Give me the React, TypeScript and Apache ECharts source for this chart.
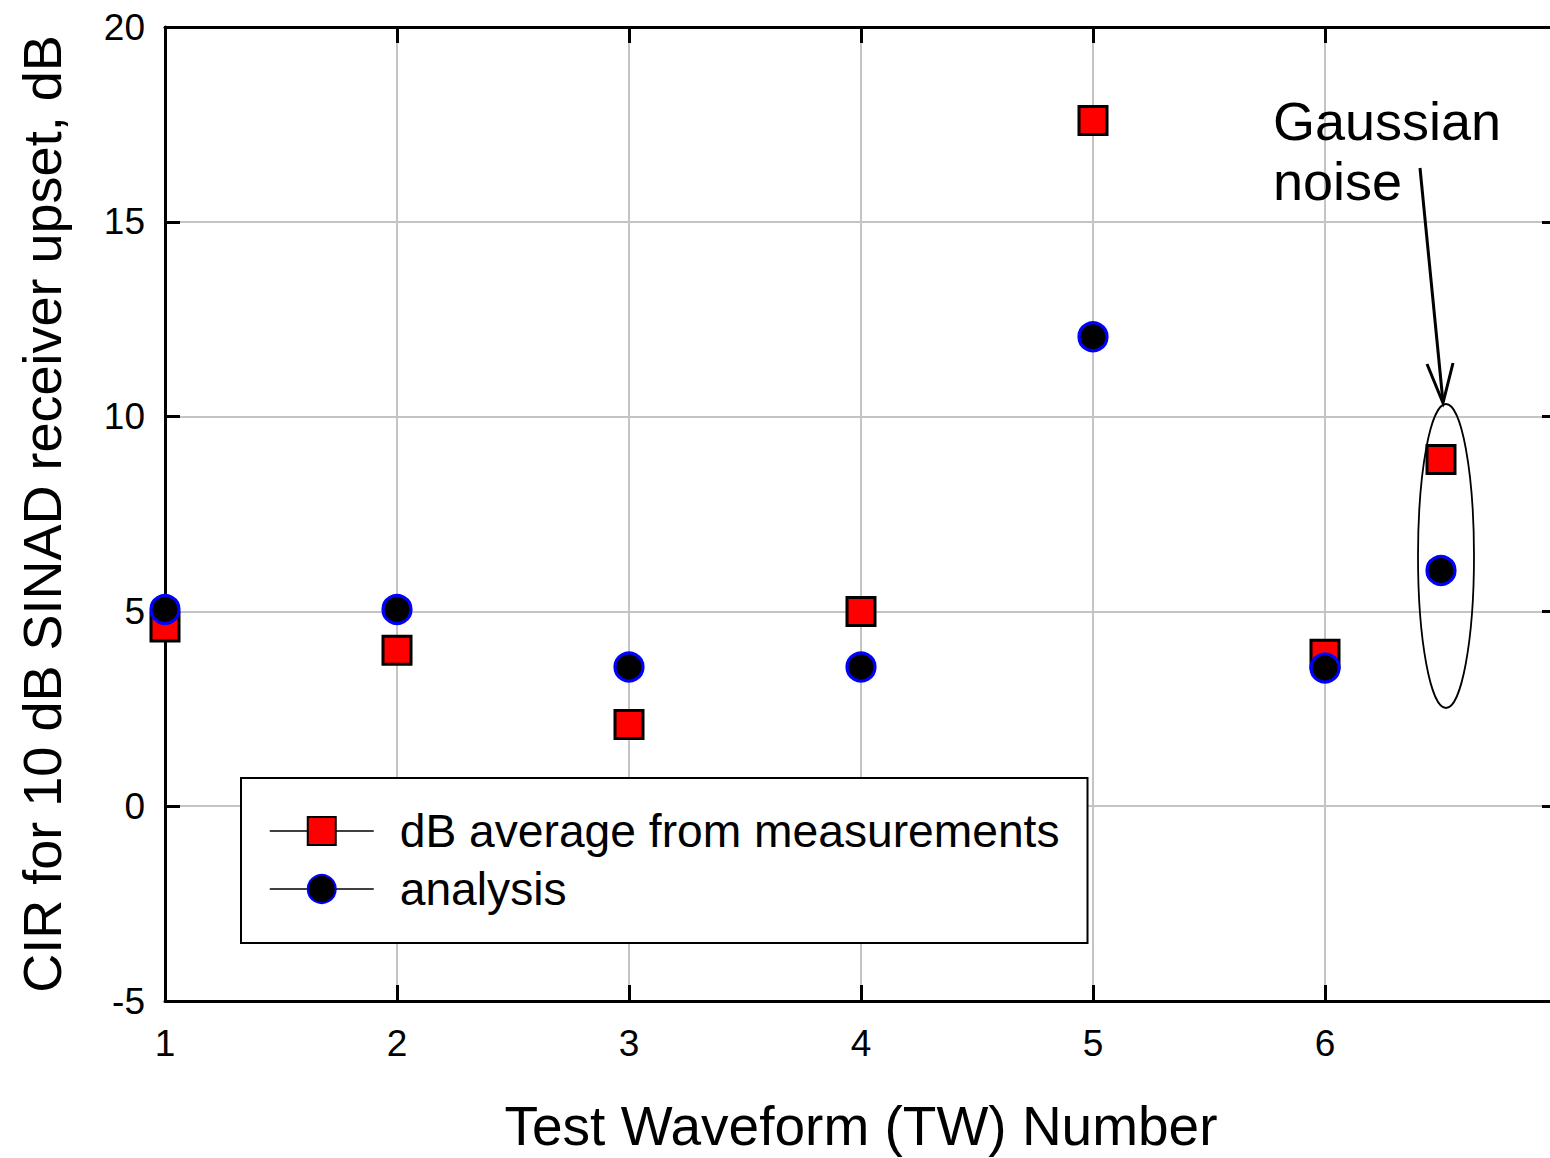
import React, { useEffect, useRef } from "react";
import * as echarts from "echarts";

// Test waveform numbers (6.5 is the Gaussian noise case)
const waveformNumbers = [1, 2, 3, 4, 5, 6, 6.5];
// CIR for 10 dB SINAD receiver upset, dB
const measuredAverage = [4.6, 4.0, 2.1, 5.0, 17.6, 3.9, 8.9];
const analysisValues = [5.05, 5.05, 3.57, 3.57, 12.05, 3.55, 6.05];

const xTickLabels = ["1", "2", "3", "4", "5", "6"];
const yTicks = [-5, 0, 5, 10, 15, 20];

const measuredName = "dB average from measurements";
const analysisName = "analysis";

const FONT = '"Liberation Sans", Arial, Helvetica, sans-serif';

export default function App() {
  const ref = useRef<HTMLDivElement>(null);

  useEffect(() => {
    if (!ref.current) return;
    const chart = echarts.init(ref.current, undefined, { renderer: "svg" });

    const xLabel = (v: number) => {
      const s = String(v);
      return xTickLabels.includes(s) ? s : "";
    };

    const tickStyle = { color: "#000", width: 3 };
    const axisLineStyle = { color: "#000", width: 3 };

    chart.setOption({
      animation: false,
      backgroundColor: "#fff",
      textStyle: { fontFamily: FONT },
      grid: {
        left: 165,
        top: 27,
        right: 13,
        bottom: 157,
        containLabel: false,
        outerBoundsMode: "none",
      },
      xAxis: [
        {
          type: "value",
          min: 1,
          max: 7,
          interval: 1,
          name: "Test Waveform (TW) Number",
          nameLocation: "middle",
          nameGap: 97,
          nameTextStyle: { fontSize: 55, color: "#000", fontFamily: FONT },
          axisLine: { show: true, onZero: false, lineStyle: axisLineStyle },
          axisTick: { show: true, inside: true, length: 16, lineStyle: tickStyle },
          axisLabel: {
            fontSize: 37,
            color: "#000",
            margin: 24,
            fontFamily: FONT,
            formatter: xLabel,
          },
          splitLine: { show: true, lineStyle: { color: "#c4c4c4", width: 2 } },
        },
        {
          type: "value",
          position: "top",
          min: 1,
          max: 7,
          interval: 1,
          axisLine: { show: true, onZero: false, lineStyle: axisLineStyle },
          axisTick: { show: true, inside: true, length: 16, lineStyle: tickStyle },
          axisLabel: { show: false },
          splitLine: { show: false },
        },
      ],
      yAxis: [
        {
          type: "value",
          min: yTicks[0],
          max: yTicks[yTicks.length - 1],
          interval: 5,
          name: "CIR for 10 dB SINAD receiver upset, dB",
          nameLocation: "middle",
          nameGap: 96,
          nameTextStyle: { fontSize: 54, color: "#000", fontFamily: FONT },
          axisLine: { show: true, onZero: false, lineStyle: axisLineStyle },
          axisTick: { show: true, inside: true, length: 15, lineStyle: tickStyle },
          axisLabel: { fontSize: 37, color: "#000", margin: 20, fontFamily: FONT },
          splitLine: { show: true, lineStyle: { color: "#c4c4c4", width: 2 } },
        },
        {
          type: "value",
          position: "right",
          min: yTicks[0],
          max: yTicks[yTicks.length - 1],
          interval: 5,
          axisLine: { show: true, onZero: false, lineStyle: axisLineStyle },
          axisTick: { show: true, inside: true, length: 15, lineStyle: tickStyle },
          axisLabel: { show: false },
          splitLine: { show: false },
        },
      ],
      legend: {
        orient: "vertical",
        left: 241,
        top: 778,
        data: [measuredName, analysisName],
        itemWidth: 104,
        itemHeight: 35,
        itemGap: 12,
        padding: [30, 28, 31, 28],
        backgroundColor: "#fff",
        borderColor: "#000",
        borderWidth: 2,
        borderRadius: 0,
        selectedMode: false,
        lineStyle: { color: "#000", width: 1.5, opacity: 1 },
        textStyle: {
          fontSize: 46.2,
          lineHeight: 45,
          color: "#000",
          fontFamily: FONT,
          padding: [0, 0, 0, 21],
        },
      },
      series: [
        {
          name: measuredName,
          type: "line",
          data: waveformNumbers.map((x, i) => [x, measuredAverage[i]]),
          symbol: "rect",
          symbolSize: 28,
          showAllSymbol: true,
          lineStyle: { width: 0, opacity: 0 },
          itemStyle: { color: "#ff0000", borderColor: "#000", borderWidth: 3 },
          emphasis: { disabled: true },
          z: 3,
        },
        {
          name: analysisName,
          type: "line",
          data: waveformNumbers.map((x, i) => [x, analysisValues[i]]),
          symbol: "circle",
          symbolSize: 28,
          showAllSymbol: true,
          lineStyle: { width: 0, opacity: 0 },
          itemStyle: { color: "#000", borderColor: "#0000ff", borderWidth: 3.2 },
          emphasis: { disabled: true },
          z: 4,
        },
      ],
      graphic: [
        {
          type: "ellipse",
          shape: { cx: 1446, cy: 556, rx: 28, ry: 152 },
          style: { fill: "none", stroke: "#000", lineWidth: 1.8 },
          z: 10,
        },
        {
          type: "line",
          shape: { x1: 1420, y1: 168, x2: 1443, y2: 402 },
          style: { stroke: "#000", lineWidth: 3 },
          z: 10,
        },
        {
          type: "polyline",
          shape: { points: [[1427, 364], [1443, 403], [1453, 363]] },
          style: { stroke: "#000", lineWidth: 3, fill: "none" },
          z: 10,
        },
        {
          type: "text",
          x: 1273,
          y: 91,
          style: {
            text: "Gaussian\nnoise",
            fontSize: 54,
            lineHeight: 60,
            fontFamily: FONT,
            fill: "#000",
            textVerticalAlign: "top",
          },
          z: 10,
        },
      ],
    });

    return () => chart.dispose();
  }, []);

  return (
    <div
      style={{
        position: "fixed",
        left: 0,
        top: 0,
        width: 1550,
        height: 1158,
        overflow: "hidden",
        background: "#fff",
      }}
    >
      <div ref={ref} style={{ width: 1570, height: 1158 }} />
    </div>
  );
}
